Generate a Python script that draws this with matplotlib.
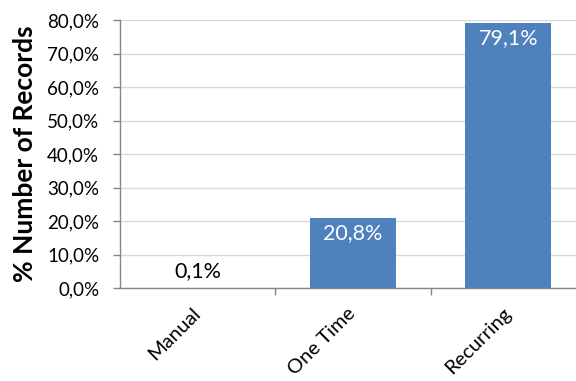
import matplotlib
matplotlib.use("Agg")
import matplotlib.pyplot as plt
from matplotlib.ticker import FuncFormatter, FixedLocator

categories = ["Manual", "One Time", "Recurring"]
values = [0.1, 20.8, 79.1]
yticks = [0, 10, 20, 30, 40, 50, 60, 70, 80]

plt.rcParams["font.family"] = ["Lato", "DejaVu Sans"]

fig = plt.figure(figsize=(5.76, 3.81), dpi=100)
ax = fig.add_axes([120 / 576, 93 / 381, (586 - 120) / 576, 268 / 381])

bar_color = "#4F81BD"
x = list(range(len(categories)))
bars = ax.bar(x, values, width=0.555, color=bar_color, zorder=3)

ax.set_xlim(-0.5, len(categories) - 0.5)
ax.set_ylim(0, 80)
ax.set_yticks(yticks)
ax.yaxis.set_major_formatter(FuncFormatter(lambda v, p: f"{v:.1f}%".replace(".", ",")))

ax.grid(axis="y", color="#D9D9D9", linewidth=1.0, zorder=0)
ax.set_axisbelow(True)

for s in ["top", "right"]:
    ax.spines[s].set_visible(False)
for s in ["left", "bottom"]:
    ax.spines[s].set_color("#868686")
    ax.spines[s].set_linewidth(1.0)

# category labels at bar centers, tick marks at category boundaries
ax.set_xticks(x)
ax.set_xticklabels(categories, rotation=45, ha="right", va="center", rotation_mode="anchor")
ax.tick_params(axis="x", length=0, pad=16, labelsize=14.5)
ax.xaxis.set_minor_locator(FixedLocator([0.5, 1.5]))
ax.tick_params(axis="x", which="minor", length=5, color="#868686", width=1.0)
ax.tick_params(axis="y", length=5, color="#868686", width=1.0, labelsize=13.5, pad=10)

ax.set_ylabel("% Number of Records", fontsize=19, fontweight="bold", labelpad=7)

for xi, v in zip(x, values):
    txt = f"{v:.1f}%".replace(".", ",")
    if v > 10:
        ax.text(xi, v - 1.5, txt, ha="center", va="top", color="white", fontsize=15.5, zorder=4)
    else:
        ax.text(xi, v + 2.0, txt, ha="center", va="bottom", color="black", fontsize=15.5, zorder=4)

fig.savefig("out.png", dpi=100)
